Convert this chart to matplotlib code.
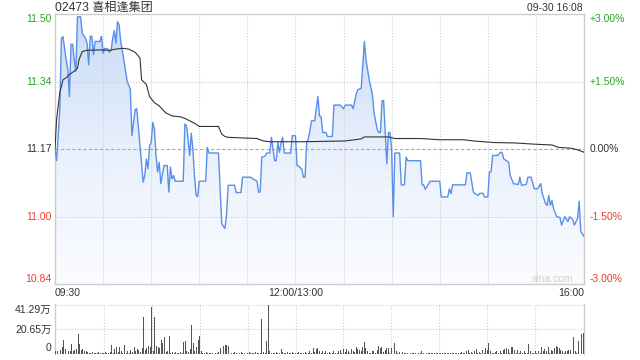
import numpy as np
import matplotlib.pyplot as plt
import matplotlib.transforms as mtransforms
from matplotlib.colors import LinearSegmentedColormap
from matplotlib.patches import PathPatch

plt.rcParams['font.family'] = ['Liberation Sans', 'Noto Sans CJK SC', 'DejaVu Sans']

# ---- data ----
title = "02473 喜相逢集团"
stamp = "09-30 16:08"
prev_close = 11.17

# minutes since 09:30 (lunch break removed), last price
minute_pts = [0, 1, 3, 4, 5, 7, 8, 9, 10, 11, 12, 13, 14, 16, 17, 19, 20, 21, 22, 23,
              24, 25, 28, 29, 30, 31, 33, 34, 35, 36, 37, 38, 39, 40, 41, 43, 45, 47, 48, 50,
              51, 53, 55, 56, 57, 58, 59, 60, 61, 62, 63, 64, 65, 66, 68, 70, 71, 72, 73, 74,
              75, 76, 80, 81, 82, 83, 84, 85, 86, 87, 88, 89, 90, 94, 95, 96, 102, 104, 105, 106,
              107, 108, 112, 113, 116, 117, 122, 123, 126, 127, 128, 129, 131, 132, 134, 135, 137, 138, 139, 140,
              141, 142, 143, 147, 148, 150, 151, 152, 154, 155, 156, 157, 158, 159, 160, 162, 164, 165, 166, 167,
              169, 170, 173, 174, 178, 180, 181, 185, 186, 188, 189, 191, 193, 194, 196, 198, 199, 201, 202, 203,
              204, 205, 207, 208, 209, 210, 211, 212, 215, 216, 218, 219, 220, 228, 229, 230, 231, 234, 240, 241,
              245, 246, 247, 248, 256, 257, 259, 261, 262, 264, 265, 267, 268, 270, 271, 272, 273, 276, 278, 279,
              280, 282, 283, 284, 286, 289, 290, 291, 294, 295, 297, 299, 301, 303, 304, 305, 306, 307, 308, 309,
              310, 311, 313, 315, 316, 318, 320, 321, 323, 324, 326, 327, 328, 330]
price_pts = [11.17, 11.141, 11.268, 11.445, 11.449, 11.39, 11.367, 11.30, 11.43, 11.43,
             11.39, 11.363, 11.498, 11.498, 11.457, 11.445, 11.433, 11.379, 11.45, 11.45,
             11.404, 11.437, 11.437, 11.45, 11.408, 11.42, 11.418, 11.41, 11.415, 11.445,
             11.464, 11.433, 11.486, 11.478, 11.437, 11.39, 11.338, 11.318, 11.203, 11.268,
             11.27, 11.178, 11.088, 11.104, 11.145, 11.121, 11.178, 11.186, 11.236, 11.219,
             11.154, 11.113, 11.137, 11.084, 11.129, 11.129, 11.063, 11.125, 11.096, 11.104,
             11.09, 11.09, 11.09, 11.232, 11.228, 11.195, 11.154, 11.209, 11.17, 11.104,
             11.055, 11.052, 11.09, 11.09, 11.174, 11.16, 11.16, 10.985, 10.978, 10.973,
             11.006, 11.08, 11.08, 11.062, 11.062, 11.10, 11.10, 11.097, 11.09, 11.063,
             11.063, 11.15, 11.152, 11.16, 11.16, 11.199, 11.141, 11.141, 11.186, 11.162,
             11.186, 11.199, 11.16, 11.16, 11.203, 11.203, 11.129, 11.127, 11.12, 11.10,
             11.10, 11.186, 11.195, 11.215, 11.24, 11.24, 11.30, 11.252, 11.25, 11.211,
             11.211, 11.201, 11.201, 11.279, 11.279, 11.27, 11.279, 11.279, 11.27, 11.308,
             11.318, 11.32, 11.437, 11.392, 11.342, 11.305, 11.26, 11.219, 11.211, 11.211,
             11.29, 11.29, 11.133, 11.211, 11.211, 11.17, 11.002, 11.16, 11.16, 11.081,
             11.081, 11.15, 11.141, 11.141, 11.081, 11.081, 11.07, 11.09, 11.09, 11.051,
             11.051, 11.071, 11.059, 11.081, 11.081, 11.111, 11.111, 11.063, 11.059, 11.055,
             11.06, 11.06, 11.051, 11.051, 11.113, 11.113, 11.154, 11.154, 11.162, 11.16,
             11.145, 11.14, 11.137, 11.104, 11.084, 11.082, 11.10, 11.08, 11.082, 11.10,
             11.10, 11.071, 11.071, 11.084, 11.059, 11.047, 11.035, 11.03, 11.055, 11.03,
             11.042, 11.022, 11.002, 11.0, 10.981, 11.002, 10.99, 11.002, 10.995, 10.981,
             10.998, 11.04, 10.965, 10.953]

avg_minutes = [0, 1, 3, 5, 7, 9, 12, 14, 15, 17, 20, 28, 34, 38, 42, 46, 50, 53, 54, 57,
               59, 62, 65, 69, 73, 78, 81, 84, 87, 90, 102, 104, 106, 108, 126, 130, 134, 155, 181, 191,
               193, 208, 212, 228, 240, 255, 261, 274, 287, 299, 310, 314, 322, 326, 330]
avg_prices = [11.17, 11.244, 11.31, 11.342, 11.347, 11.355, 11.363, 11.371, 11.392, 11.412,
              11.415, 11.416, 11.415, 11.418, 11.42, 11.418, 11.41, 11.396, 11.342, 11.33,
              11.30, 11.285, 11.277, 11.26, 11.252, 11.25, 11.246, 11.24, 11.234, 11.226,
              11.226, 11.207, 11.201, 11.199, 11.196, 11.19, 11.188, 11.188, 11.19, 11.195,
              11.2, 11.2, 11.196, 11.196, 11.193, 11.193, 11.19, 11.186, 11.185, 11.182,
              11.18, 11.174, 11.172, 11.168, 11.162]

# volume per minute, unit 万 shares
volume_wan = [
    2.2, 2.8, 1.4, 3.3, 5.5, 11.6, 4.1, 5.0, 2.8, 2.2,
    8.8, 2.8, 3.3, 4.1, 16.5, 8.8, 3.3, 4.1, 2.2, 2.8,
    1.4, 1.1, 0.8, 1.4, 0.6, 1.1, 0.8, 1.4, 1.1, 0.6,
    1.1, 1.4, 0.8, 1.1, 1.4, 7.4, 1.1, 4.1, 5.5, 1.4,
    6.3, 2.2, 1.1, 7.4, 0.8, 2.2, 1.1, 3.3, 1.4, 6.3,
    2.2, 4.1, 3.3, 1.4, 5.0, 31.4, 3.3, 5.0, 6.9, 6.3,
    39.4, 2.8, 31.4, 6.9, 6.1, 5.0, 11.6, 9.6, 14.3, 1.4,
    2.2, 14.9, 1.1, 1.4, 0.8, 1.4, 1.1, 0.8, 1.4, 1.1,
    10.2, 11.0, 2.2, 1.4, 4.1, 24.8, 9.6, 2.8, 5.5, 11.6,
    15.1, 2.2, 1.1, 0.8, 1.4, 1.1, 0.6, 1.1, 0.8, 1.4,
    1.1, 0.8, 1.4, 5.0, 33.0, 6.9, 7.4, 7.7, 6.9, 1.4,
    1.1, 0.8, 1.4, 0.6, 1.1, 0.8, 1.4, 1.1, 0.8, 0.6,
    1.1, 1.4, 0.8, 1.1, 0.6, 1.4, 0.8, 1.1, 0.8, 29.7,
    1.4, 1.1, 11.0, 41.29, 2.2, 0.6, 1.1, 0.8, 1.4, 1.1,
    0.8, 4.1, 1.4, 1.1, 0.8, 1.4, 1.1, 0.8, 1.4, 1.1,
    0.8, 1.1, 1.4, 0.8, 1.1, 0.6, 1.4, 1.1, 0.8, 2.8,
    1.1, 5.0, 1.4, 4.1, 5.0, 2.8, 1.1, 2.2, 1.1, 2.2,
    0.8, 1.4, 1.1, 0.8, 2.8, 1.1, 0.8, 2.2, 3.3, 1.1,
    4.1, 1.4, 4.1, 2.2, 1.1, 4.1, 2.8, 1.4, 6.0, 4.1,
    3.3, 2.8, 6.0, 10.5, 5.0, 2.2, 1.1, 0.8, 2.8, 2.2,
    1.1, 3.3, 6.9, 5.0, 5.5, 1.4, 3.3, 5.0, 5.0, 1.1,
    5.0, 6.0, 9.6, 2.8, 1.1, 1.4, 0.8, 1.4, 0.6, 1.1,
    1.1, 0.8, 0.6, 1.1, 0.8, 1.1, 0.6, 0.8, 1.1, 2.8,
    0.8, 1.4, 0.6, 1.1, 0.8, 0.6, 1.1, 0.8, 1.1, 0.6,
    0.8, 1.1, 0.6, 0.8, 1.1, 0.8, 0.6, 1.1, 0.8, 1.1,
    0.6, 0.8, 1.1, 0.8, 1.4, 0.6, 1.1, 2.2, 3.3, 1.1,
    1.4, 0.8, 2.8, 4.1, 1.1, 1.4, 0.8, 3.3, 1.1, 5.0,
    3.3, 9.6, 2.2, 0.8, 1.1, 1.4, 2.2, 1.1, 2.8, 1.1,
    3.3, 4.1, 5.0, 4.1, 1.1, 5.5, 6.3, 3.3, 1.1, 3.3,
    1.1, 2.2, 1.1, 2.8, 1.1, 0.8, 8.8, 2.2, 1.1, 0.8,
    2.2, 1.1, 2.8, 1.1, 6.0, 2.8, 4.1, 2.2, 5.5, 1.1,
    3.3, 2.8, 5.0, 6.9, 5.5, 5.0, 3.3, 2.8, 1.1, 2.2,
    2.8, 3.3, 3.3, 1.1, 14.6, 2.2, 1.1, 10.7, 1.4, 16.5,
    17.3]
vol_ticks = [41.29, 20.65]
vol_labels = ["41.29万", "20.65万"]

# price levels as fractions of previous close, with their printed labels
levels = [1.03, 1.015, 1.0, 0.985, 0.97]
price_labels = ["11.50", "11.34", "11.17", "11.00", "10.84"]
pct_labels = ["+3.00%", "+1.50%", "0.00%", "-1.50%", "-3.00%"]

time_ticks = [0, 150, 330]
time_labels = ["09:30", "12:00/13:00", "16:00"]

# ---- colours ----
green = "#2aa52a"
red = "#ee3b2f"
dark = "#333333"
frame = "#cccccc"
grid = "#cfcfcf"

fig = plt.figure(figsize=(6.4, 3.6), dpi=100)
ax = fig.add_axes([55 / 640, 1 - 284 / 360, 529 / 640, 270 / 360])
axv = fig.add_axes([55 / 640, 1 - 354 / 360, 529 / 640, 50 / 360])

lo, hi = prev_close * 0.97, prev_close * 1.03

# gradient fill under the price line
grad = np.linspace(0, 1, 256).reshape(-1, 1)
cmap = LinearSegmentedColormap.from_list("fill", ["#fbfcff", "#e9f0fc", "#c8dbf6"])
im = ax.imshow(grad, extent=[0, 330, lo, hi], origin="lower", aspect="auto",
               cmap=cmap, zorder=1)
poly = ax.fill_between(minute_pts, price_pts, lo, facecolor="none", edgecolor="none")
clip = PathPatch(poly.get_paths()[0], transform=ax.transData,
                 facecolor="none", edgecolor="none")
ax.add_patch(clip)
im.set_clip_path(clip)

# grid
for m in range(30, 330, 30):
    ax.axvline(m, color=grid, lw=0.8, ls=(0, (1, 1.5)), zorder=2)
    axv.axvline(m, color=grid, lw=0.8, ls=(0, (1, 1.5)), zorder=0)
for f in (1.015, 0.985):
    ax.axhline(prev_close * f, color=grid, lw=0.8, ls=(0, (1, 1.5)), zorder=2)
ax.axhline(prev_close, color="#a8a8a8", lw=0.8, ls=(0, (3, 2)), zorder=2)

ax.plot(minute_pts, price_pts, color="#5a8fe9", lw=1.0, zorder=4)
ax.plot(avg_minutes, avg_prices, color=dark, lw=0.8, zorder=5)

ax.set_xlim(0, 330)
ax.set_ylim(lo, hi)
ax.set_xticks([])
ax.set_yticks([])
for s in ax.spines.values():
    s.set_color(frame)
    s.set_linewidth(1)

# axis labels
left = mtransforms.blended_transform_factory(ax.transAxes, ax.transData)
for i, f in enumerate(levels):
    p = prev_close * f
    c = green if f > 1 else (red if f < 1 else dark)
    va = "top" if i == 0 else ("bottom" if i == len(levels) - 1 else "center")
    ax.text(-0.006, p, price_labels[i], transform=left, ha="right", va=va, color=c, fontsize=7.5)
    ax.text(1.011, p, pct_labels[i], transform=left, ha="left", va=va, color=c, fontsize=7.5)

ax.text(0.979, 0.0185, "sina.com", transform=ax.transAxes, ha="right", va="center",
        color="#d0d0d0", fontsize=7.5)

for t, lab in zip(time_ticks, time_labels):
    ha = "left" if t == 0 else ("right" if t == 330 else "center")
    xf = (55 + t * 529 / 330) / 640
    fig.text(xf, 1 - 293 / 360, lab, ha=ha, va="center", color=dark, fontsize=7.5)

fig.text(55 / 640, 1 - 8 / 360, title, ha="left", va="center", color=dark, fontsize=8.7)
fig.text(583 / 640, 1 - 8 / 360, stamp, ha="right", va="center", color=dark, fontsize=7.5)

# volume panel
axv.bar(range(len(volume_wan)), volume_wan, width=0.6, color="#555555", zorder=3)
axv.set_xlim(-0.5, 330.5)
axv.set_ylim(0, 41.29 * 50 / 49)
for v in vol_ticks:
    axv.axhline(v, color=grid, lw=0.8, ls=(0, (1, 1.5)), zorder=1)
axv.set_xticks([])
axv.set_yticks([])
for k in ("top", "bottom"):
    axv.spines[k].set_visible(False)
for k in ("left", "right"):
    axv.spines[k].set_color(frame)
    axv.spines[k].set_linewidth(1)
vleft = mtransforms.blended_transform_factory(axv.transAxes, axv.transData)
axv.text(-0.006, vol_ticks[0], vol_labels[0], transform=vleft, ha="right",
         va="top", color=dark, fontsize=7.5)
axv.text(-0.006, vol_ticks[1], vol_labels[1], transform=vleft, ha="right",
         va="center", color=dark, fontsize=7.5)
axv.text(-0.006, 1.2, "0", transform=vleft, ha="right", va="bottom", color=dark, fontsize=7.5)

fig.savefig("out.png", dpi=100)
